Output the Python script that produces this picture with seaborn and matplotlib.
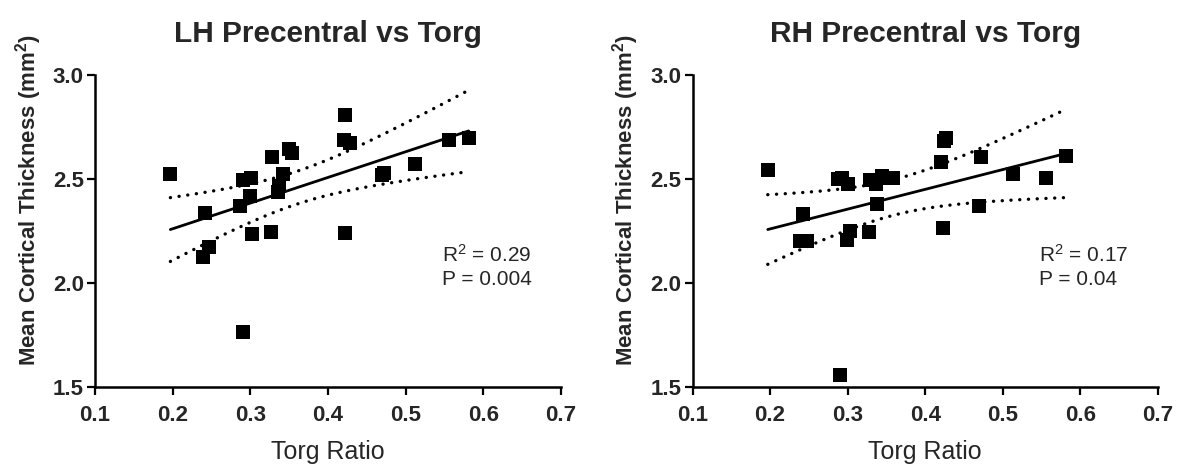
import numpy as np
import pandas as pd
import matplotlib
matplotlib.use("Agg")
import matplotlib.pyplot as plt
import seaborn as sns

# ---- data ----
lh_torg = [0.197, 0.242, 0.247, 0.239, 0.290, 0.301, 0.286, 0.300, 0.302, 0.290,
           0.328, 0.327, 0.342, 0.337, 0.336, 0.350, 0.354, 0.422, 0.420, 0.428,
           0.422, 0.469, 0.472, 0.512, 0.556, 0.581]
lh_thick = [2.523, 2.338, 2.172, 2.124, 2.495, 2.503, 2.372, 2.418, 2.234, 1.763,
            2.607, 2.244, 2.524, 2.466, 2.439, 2.643, 2.627, 2.808, 2.688, 2.671,
            2.242, 2.519, 2.527, 2.572, 2.688, 2.697]

rh_torg = [0.197, 0.243, 0.239, 0.248, 0.288, 0.2925, 0.301, 0.303, 0.2997, 0.290,
           0.328, 0.329, 0.337, 0.3385, 0.344, 0.354, 0.358, 0.4245, 0.427, 0.420,
           0.423, 0.472, 0.469, 0.513, 0.556, 0.582]
rh_thick = [2.543, 2.332, 2.203, 2.203, 2.500, 2.503, 2.474, 2.251, 2.207, 1.558,
            2.247, 2.495, 2.474, 2.380, 2.514, 2.506, 2.503, 2.684, 2.695, 2.583,
            2.263, 2.607, 2.370, 2.523, 2.503, 2.612]

titles = ["LH Precentral vs Torg", "RH Precentral vs Torg"]
r2_text = ["R$^{2}$ = 0.29", "R$^{2}$ = 0.17"]
p_text = ["P = 0.004", "P = 0.04"]
x_ticks = [0.1, 0.2, 0.3, 0.4, 0.5, 0.6, 0.7]
y_ticks = [1.5, 2.0, 2.5, 3.0]
xlabel = "Torg Ratio"
ylabel = "Mean Cortical Thickness (mm$\\mathbf{^{2}}$)"

T_CRIT = 2.0639  # t(0.975, df=24)

sns.set_style("ticks")
plt.rcParams["font.family"] = ["Liberation Sans", "DejaVu Sans"]
plt.rcParams["mathtext.fontset"] = "custom"
plt.rcParams["mathtext.rm"] = "Liberation Sans"
plt.rcParams["mathtext.it"] = "Liberation Sans:italic"
plt.rcParams["mathtext.bf"] = "Liberation Sans:bold"
plt.rcParams["mathtext.default"] = "regular"
plt.rcParams["lines.scale_dashes"] = False

fig = plt.figure(figsize=(11.79, 4.65), dpi=100)
axes = [fig.add_axes([0.0806, 0.1677, 0.3953, 0.671]),
        fig.add_axes([0.5874, 0.1677, 0.3946, 0.671])]

datasets = [(lh_torg, lh_thick), (rh_torg, rh_thick)]

for ax, (xs, ys), title, r2, pv in zip(axes, datasets, titles, r2_text, p_text):
    df = pd.DataFrame({"torg": xs, "thick": ys})
    sns.regplot(data=df, x="torg", y="thick", ax=ax, ci=None, marker="s",
                truncate=True,
                scatter_kws={"s": 92, "color": "black", "linewidths": 0,
                             "alpha": 1, "clip_on": False, "zorder": 3},
                line_kws={"color": "black", "lw": 2.0, "zorder": 4})

    # 95% confidence band of the fit (dotted)
    x = np.asarray(xs, float)
    y = np.asarray(ys, float)
    n = len(x)
    b, a = np.polyfit(x, y, 1)
    resid = y - (a + b * x)
    s = np.sqrt(np.sum(resid ** 2) / (n - 2))
    sxx = np.sum((x - x.mean()) ** 2)
    grid = np.linspace(x.min(), x.max(), 100)
    se = s * np.sqrt(1.0 / n + (grid - x.mean()) ** 2 / sxx)
    fit = a + b * grid
    band = pd.DataFrame({"x": np.concatenate([grid, grid]),
                         "y": np.concatenate([fit + T_CRIT * se, fit - T_CRIT * se]),
                         "side": ["upper"] * len(grid) + ["lower"] * len(grid)})
    for side in ["upper", "lower"]:
        sub = band[band["side"] == side]
        sns.lineplot(data=sub, x="x", y="y", ax=ax, color="black", lw=2.4,
                     linestyle=(0, (0.1, 6.2)), dash_capstyle="round",
                     estimator=None, sort=False, zorder=2)

    ax.set_xlim(0.1, 0.7)
    ax.set_ylim(1.5, 3.0)
    ax.set_xticks(x_ticks)
    ax.set_yticks(y_ticks)
    ax.set_xticklabels([f"{t:.1f}" for t in x_ticks], fontsize=16, fontweight="bold")
    ax.set_yticklabels([f"{t:.1f}" for t in y_ticks], fontsize=16, fontweight="bold")
    ax.tick_params(axis="both", direction="out", length=6, width=1.6, color="black")
    ax.tick_params(axis="x", pad=7)
    ax.tick_params(axis="y", pad=2)
    for side in ["left", "bottom"]:
        ax.spines[side].set_linewidth(1.8)
        ax.spines[side].set_color("black")
    sns.despine(ax=ax)

    ax.set_xlabel(xlabel, fontsize=18, labelpad=10)
    ax.set_ylabel(ylabel, fontsize=16, fontweight="bold")
    ax.yaxis.set_label_coords(-0.143, 0.60)
    ax.yaxis.label.set_verticalalignment("center")
    ax.set_title(title, fontsize=21.5, fontweight="bold", pad=24)

    ax.text(0.745, 0.423, r2, transform=ax.transAxes, fontsize=15,
            ha="left", va="center")
    ax.text(0.745, 0.343, pv, transform=ax.transAxes, fontsize=15,
            ha="left", va="center")

fig.savefig("out.png", dpi=100, facecolor="white")
